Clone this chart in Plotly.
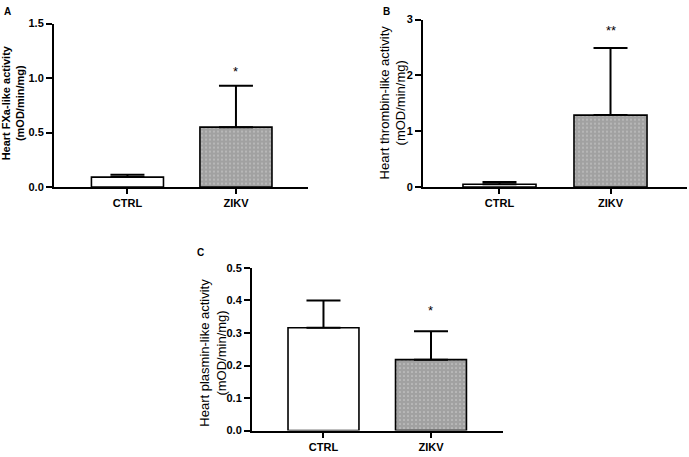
import plotly.graph_objects as go

W, H = 689, 457

categories = ["CTRL", "ZIKV"]

fxa_mean = [0.092, 0.55]
fxa_sem = [0.021, 0.38]
fxa_sig = ["", "*"]

thr_mean = [0.05, 1.29]
thr_sem = [0.04, 1.20]
thr_sig = ["", "**"]

pla_mean = [0.316, 0.218]
pla_sem = [0.084, 0.087]
pla_sig = ["", "*"]

FONT = "Liberation Sans, Arial, sans-serif"

panels = [
    dict(mean=fxa_mean, sem=fxa_sem, sig=fxa_sig, yr=[0, 1.5], dt=0.5, fmt=".1f",
         xd=[54, 308], yd=[186, 18], xr=[-0.677, 1.664], bw=0.664,
         title="<b>Heart FXa-like activity<br>(mOD/min/mg)</b>", tx=13, ty=100, tsize=11,
         letter="A", lx=7, ly=6, sshift=5),
    dict(mean=thr_mean, sem=thr_sem, sig=thr_sig, yr=[0, 3], dt=1, fmt="d",
         xd=[423, 687], yd=[186, 14], xr=[-0.689, 1.689], bw=0.658,
         title="Heart thrombin-like activity<br>(mOD/min/mg)", tx=393, ty=99, tsize=13,
         letter="B", lx=386, ly=6, sshift=8),
    dict(mean=pla_mean, sem=pla_sem, sig=pla_sig, yr=[0, 0.5], dt=0.1, fmt=".1f",
         xd=[252, 503], yd=[436, 269], xr=[-0.665, 1.67], bw=0.66,
         title="Heart plasmin-like activity<br>(mOD/min/mg)", tx=213, ty=356, tsize=13,
         letter="C", lx=200, ly=253, sshift=11),
]

fig = go.Figure()
annotations = []
layout = {}
for i, p in enumerate(panels, start=1):
    sfx = "" if i == 1 else str(i)
    xa, ya = "x" + sfx, "y" + sfx
    fig.add_trace(go.Bar(
        x=categories, y=p["mean"], xaxis=xa, yaxis=ya, width=p["bw"],
        marker=dict(
            color=["white", "white"],
            line=dict(color="black", width=1.6),
            pattern=dict(shape=["", "."], fgcolor="black", bgcolor="white",
                         size=4, solidity=0.85, fillmode="overlay"),
        ),
        error_y=dict(type="data", symmetric=False, array=p["sem"],
                     arrayminus=[0, 0], color="black", thickness=2, width=17),
        showlegend=False,
    ))
    layout["xaxis" + sfx] = dict(
        domain=[p["xd"][0] / W, p["xd"][1] / W], anchor=ya, type="category",
        range=p["xr"], showline=True, linecolor="black", linewidth=2,
        ticks="outside", ticklen=5, tickwidth=2, tickcolor="black",
        tickfont=dict(family=FONT, size=11, color="black", weight="bold"),
        showgrid=False, zeroline=False, fixedrange=True,
    )
    layout["yaxis" + sfx] = dict(
        domain=[(H - p["yd"][0]) / H, (H - p["yd"][1]) / H], anchor=xa,
        range=p["yr"], dtick=p["dt"], tick0=0, tickformat=p["fmt"],
        showline=True, linecolor="black", linewidth=2,
        ticks="outside", ticklen=6, tickwidth=2, tickcolor="black",
        tickfont=dict(family=FONT, size=11, color="black", weight="bold"),
        showgrid=False, zeroline=False, fixedrange=True,
    )
    annotations.append(dict(
        text=p["title"], x=p["tx"] / W, y=(H - p["ty"]) / H, xref="paper", yref="paper",
        textangle=-90, showarrow=False, xanchor="center", yanchor="middle",
        font=dict(family=FONT, size=p["tsize"], color="black"),
    ))
    annotations.append(dict(
        text="<b>" + p["letter"] + "</b>", x=p["lx"] / W, y=(H - p["ly"]) / H,
        xref="paper", yref="paper", showarrow=False, xanchor="center", yanchor="middle",
        font=dict(family=FONT, size=10, color="black"),
    ))
    for c, m, s, g in zip(categories, p["mean"], p["sem"], p["sig"]):
        if g:
            annotations.append(dict(
                text=g, x=c, y=m + s, xref=xa, yref=ya, showarrow=False,
                xanchor="center", yanchor="bottom", yshift=p["sshift"],
                font=dict(family=FONT, size=13, color="black"),
            ))

fig.update_layout(
    width=W, height=H, margin=dict(l=0, r=0, t=0, b=0),
    paper_bgcolor="white", plot_bgcolor="white",
    annotations=annotations, bargap=0.3, **layout,
)
fig.write_html("out.html")
